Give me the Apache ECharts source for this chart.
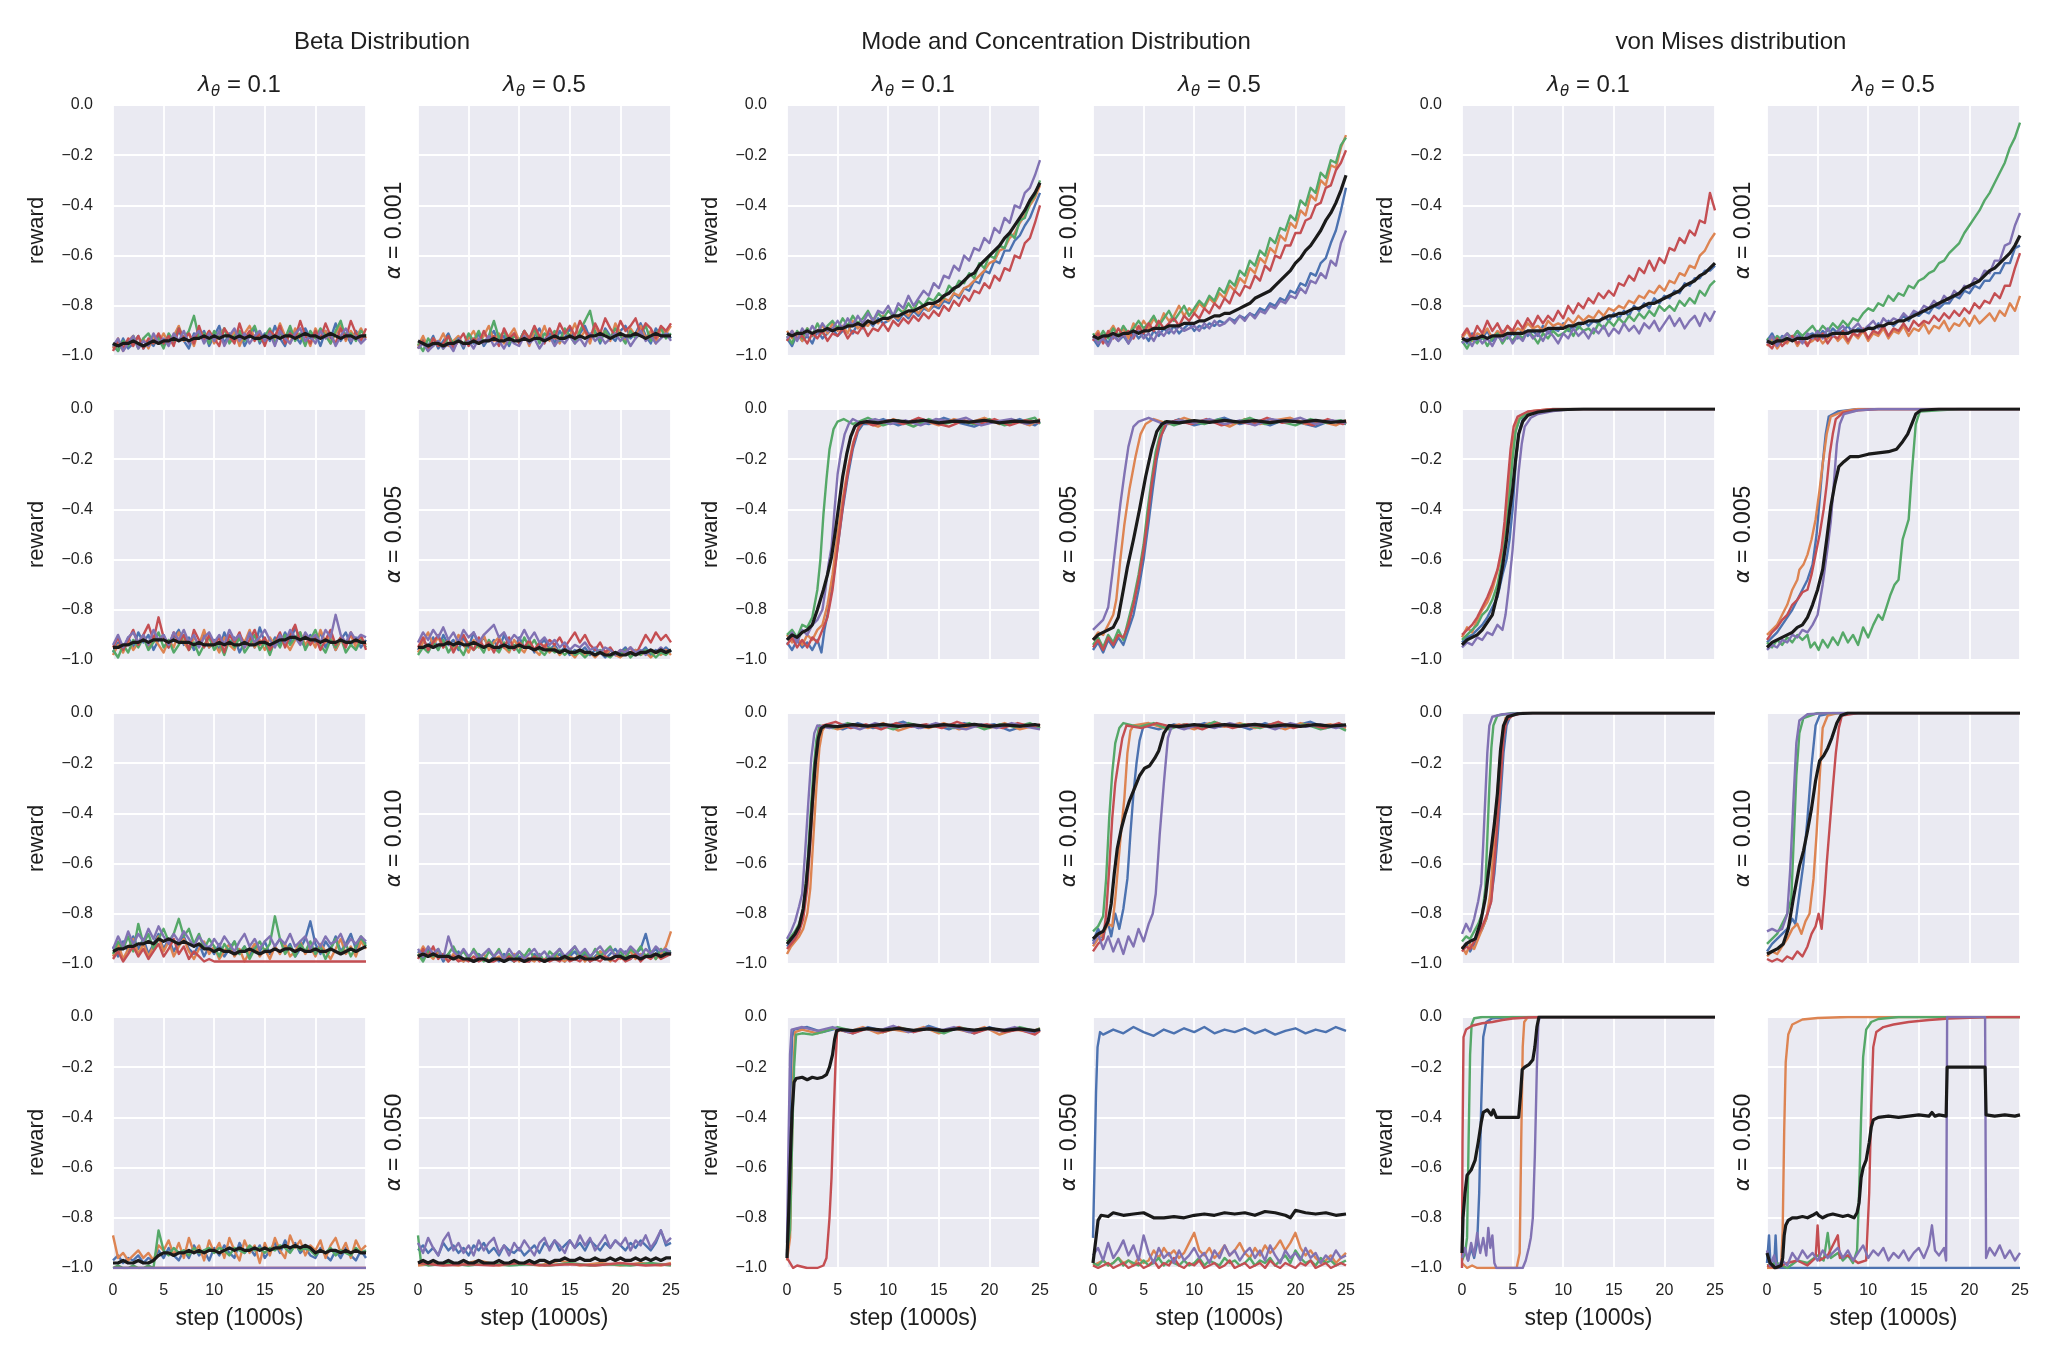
<!DOCTYPE html>
<html><head><meta charset="utf-8">
<script src="https://cdn.jsdelivr.net/npm/echarts/dist/echarts.min.js"></script>
<style>html,body{margin:0;padding:0;background:#fff}#c{width:2062px;height:1364px}</style>
</head><body><div id="c"></div>
<script>
// ---------- shared axes / labels ----------
const STEPS = [0,0.5,1,1.5,2,2.5,3,3.5,4,4.5,5,5.5,6,6.5,7,7.5,8,8.5,9,9.5,10,10.5,11,11.5,12,12.5,13,13.5,14,14.5,15,15.5,16,16.5,17,17.5,18,18.5,19,19.5,20,20.5,21,21.5,22,22.5,23,23.5,24,24.5,25];
const GROUP_TITLES = ['Beta Distribution','Mode and Concentration Distribution','von Mises distribution'];
const LAMBDAS = ['0.1','0.5'];
const ALPHAS = ['0.001','0.005','0.010','0.050'];
const Y_LABEL = 'reward';
const X_LABEL = 'step (1000s)';
const COLORS = ['#4C72B0','#DD8452','#55A868','#C44E52','#8172B3','#1a1a1a'];

// ---------- Beta, lambda 0.1 ----------
const b1_1_bl=[-.96,-.98,-.93,-.97,-.95,-.92,-.97,-.94,-.96,-.92,
-.96,-.92,-.95,-.90,-.94,-.97,-.91,-.93,-.90,-.96,
-.92,-.88,-.95,-.91,-.94,-.90,-.96,-.92,-.89,-.95,
-.91,-.94,-.88,-.93,-.96,-.90,-.92,-.95,-.89,-.93,
-.91,-.96,-.90,-.93,-.87,-.94,-.91,-.95,-.90,-.93,-.92];
const b1_1_or=[-.97,-.93,-.98,-.94,-.92,-.96,-.93,-.97,-.92,-.95,
-.91,-.95,-.92,-.88,-.94,-.91,-.96,-.89,-.93,-.90,
-.95,-.92,-.89,-.94,-.90,-.96,-.91,-.88,-.93,-.91,
-.95,-.90,-.93,-.87,-.92,-.95,-.89,-.93,-.91,-.96,
-.89,-.93,-.90,-.95,-.91,-.88,-.94,-.90,-.93,-.89,-.93];
const b1_1_gr=[-.95,-.98,-.94,-.96,-.92,-.97,-.93,-.91,-.95,-.93,
-.97,-.91,-.94,-.89,-.93,-.90,-.84,-.93,-.91,-.95,
-.90,-.93,-.89,-.95,-.92,-.90,-.94,-.91,-.88,-.94,
-.92,-.89,-.95,-.91,-.93,-.88,-.94,-.91,-.96,-.90,
-.93,-.89,-.92,-.95,-.90,-.86,-.93,-.91,-.94,-.90,-.92];
const b1_1_rd=[-.98,-.94,-.97,-.93,-.96,-.92,-.97,-.93,-.95,-.91,
-.95,-.92,-.96,-.89,-.93,-.91,-.95,-.88,-.94,-.90,
-.93,-.96,-.89,-.92,-.95,-.87,-.93,-.90,-.94,-.91,
-.96,-.90,-.92,-.88,-.95,-.91,-.93,-.86,-.92,-.95,
-.90,-.93,-.87,-.92,-.95,-.89,-.93,-.86,-.91,-.94,-.89];
const b1_1_pu=[-.96,-.93,-.98,-.95,-.92,-.97,-.94,-.96,-.91,-.95,
-.93,-.96,-.91,-.94,-.90,-.95,-.92,-.90,-.95,-.91,
-.94,-.90,-.96,-.92,-.89,-.94,-.91,-.95,-.92,-.90,
-.94,-.91,-.96,-.90,-.93,-.95,-.91,-.89,-.94,-.92,
-.95,-.90,-.93,-.91,-.96,-.92,-.89,-.94,-.92,-.95,-.93];
const b1_1_bk=[-.95,-.96,-.95,-.95,-.94,-.95,-.96,-.95,-.94,-.95,
-.94,-.94,-.93,-.94,-.93,-.94,-.93,-.93,-.92,-.93,
-.92,-.93,-.92,-.92,-.93,-.92,-.93,-.92,-.93,-.93,
-.92,-.93,-.92,-.93,-.92,-.92,-.93,-.92,-.91,-.92,
-.92,-.93,-.92,-.91,-.92,-.93,-.92,-.92,-.93,-.92,-.92];

const b1_5_bl=[-.97,-.93,-.96,-.91,-.95,-.89,-.93,-.90,-.96,-.92,
-.90,-.95,-.91,-.88,-.94,-.91,-.96,-.93,-.90,-.95,
-.92,-.96,-.89,-.94,-.91,-.97,-.93,-.90,-.95,-.87,
-.93,-.96,-.91,-.94,-.89,-.93,-.87,-.92,-.95,-.90,
-.93,-.89,-.95,-.91,-.96,-.92,-.89,-.94,-.91,-.95,-.92];
const b1_5_or=[-.98,-.94,-.97,-.92,-.96,-.93,-.90,-.95,-.91,-.94,
-.97,-.92,-.95,-.89,-.93,-.96,-.91,-.94,-.88,-.95,
-.93,-.97,-.91,-.94,-.96,-.90,-.93,-.88,-.95,-.92,
-.96,-.91,-.94,-.90,-.93,-.96,-.92,-.89,-.94,-.91,
-.95,-.88,-.93,-.90,-.96,-.92,-.94,-.90,-.95,-.91,-.94];
const b1_5_gr=[-.96,-.99,-.94,-.97,-.92,-.95,-.91,-.96,-.93,-.89,
-.95,-.92,-.97,-.94,-.90,-.96,-.93,-.98,-.94,-.91,
-.96,-.93,-.98,-.92,-.95,-.91,-.97,-.94,-.90,-.96,
-.93,-.98,-.92,-.95,-.90,-.94,-.91,-.89,-.96,-.92,
-.88,-.94,-.97,-.92,-.95,-.91,-.97,-.94,-.96,-.92,-.95];
const b1_5_rd=[-.95,-.91,-.96,-.92,-.88,-.94,-.90,-.86,-.92,-.83,
-.91,-.95,-.89,-.93,-.90,-.96,-.88,-.92,-.95,-.90,
-.94,-.91,-.97,-.90,-.93,-.89,-.95,-.92,-.88,-.94,
-.91,-.96,-.93,-.89,-.95,-.90,-.86,-.93,-.90,-.94,
-.91,-.96,-.92,-.88,-.94,-.91,-.95,-.89,-.93,-.90,-.96];
const b1_5_pu=[-.94,-.90,-.95,-.91,-.89,-.93,-.90,-.94,-.88,-.92,
-.90,-.94,-.89,-.92,-.88,-.93,-.90,-.95,-.91,-.89,
-.93,-.90,-.94,-.88,-.92,-.90,-.95,-.89,-.93,-.91,
-.88,-.92,-.95,-.90,-.93,-.88,-.91,-.94,-.89,-.92,
-.90,-.93,-.88,-.91,-.82,-.90,-.93,-.89,-.92,-.90,-.91];
const b1_5_bk=[-.95,-.95,-.94,-.94,-.93,-.93,-.92,-.93,-.92,-.92,
-.92,-.93,-.92,-.93,-.93,-.93,-.94,-.93,-.94,-.94,
-.94,-.93,-.94,-.93,-.94,-.94,-.93,-.94,-.94,-.93,
-.93,-.94,-.93,-.92,-.92,-.91,-.91,-.92,-.91,-.92,
-.92,-.93,-.92,-.93,-.93,-.92,-.93,-.93,-.92,-.93,-.93];

const b1_10_bl=[-.93,-.97,-.91,-.95,-.89,-.94,-.90,-.96,-.92,-.88,
-.94,-.90,-.95,-.91,-.89,-.94,-.96,-.92,-.97,-.93,
-.96,-.92,-.97,-.94,-.91,-.96,-.93,-.97,-.92,-.95,
-.91,-.96,-.93,-.90,-.95,-.92,-.97,-.94,-.90,-.83,
-.92,-.96,-.91,-.94,-.89,-.95,-.92,-.88,-.94,-.90,-.92];
const b1_10_or=[-.97,-.92,-.98,-.94,-.90,-.96,-.92,-.97,-.93,-.89,
-.95,-.91,-.97,-.93,-.90,-.95,-.98,-.94,-.91,-.96,
-.93,-.98,-.95,-.92,-.97,-.94,-.99,-.95,-.92,-.97,
-.94,-.98,-.93,-.96,-.92,-.97,-.95,-.91,-.96,-.93,
-.97,-.92,-.95,-.98,-.94,-.90,-.96,-.93,-.97,-.91,-.94];
const b1_10_gr=[-.96,-.91,-.94,-.89,-.95,-.84,-.92,-.88,-.94,-.90,
-.86,-.91,-.88,-.82,-.89,-.86,-.92,-.88,-.94,-.90,
-.93,-.97,-.92,-.95,-.91,-.96,-.93,-.98,-.94,-.91,
-.95,-.92,-.81,-.90,-.96,-.93,-.97,-.92,-.95,-.91,
-.96,-.93,-.98,-.94,-.90,-.96,-.92,-.97,-.93,-.89,-.93];
const b1_10_rd=[-.98,-.95,-.99,-.96,-.93,-.97,-.94,-.98,-.95,-.92,
-.97,-.94,-.90,-.96,-.93,-.98,-.95,-.97,-.99,-.98,
-.99,-.99,-.99,-.99,-.99,-.99,-.99,-.99,-.99,-.99,
-.99,-.99,-.99,-.99,-.99,-.99,-.99,-.99,-.99,-.99,
-.99,-.99,-.99,-.99,-.99,-.99,-.99,-.99,-.99,-.99,-.99];
const b1_10_pu=[-.94,-.89,-.93,-.87,-.92,-.88,-.91,-.86,-.90,-.85,
-.89,-.92,-.88,-.91,-.87,-.90,-.93,-.89,-.92,-.94,
-.90,-.93,-.89,-.92,-.95,-.91,-.88,-.93,-.90,-.94,
-.91,-.89,-.93,-.90,-.92,-.88,-.93,-.91,-.89,-.94,
-.90,-.93,-.89,-.92,-.91,-.88,-.93,-.90,-.92,-.89,-.91];
const b1_10_bk=[-.95,-.94,-.94,-.93,-.93,-.92,-.92,-.91,-.92,-.90,
-.91,-.90,-.91,-.92,-.91,-.92,-.93,-.92,-.94,-.94,
-.95,-.94,-.95,-.95,-.96,-.95,-.95,-.94,-.95,-.96,
-.95,-.95,-.94,-.95,-.94,-.94,-.95,-.94,-.95,-.95,
-.94,-.95,-.95,-.94,-.95,-.96,-.95,-.94,-.95,-.94,-.93];

const b1_50_bl=[-.97,-.95,-.98,-.96,-.97,-.95,-.98,-.96,-.97,-.93,
-.96,-.92,-.95,-.97,-.93,-.96,-.91,-.95,-.93,-.97,
-.92,-.95,-.91,-.94,-.96,-.90,-.94,-.92,-.95,-.91,
-.96,-.93,-.90,-.94,-.89,-.93,-.90,-.94,-.92,-.95,
-.96,-.92,-.95,-.97,-.93,-.96,-.92,-.95,-.97,-.93,-.96];
const b1_50_or=[-.87,-.96,-.94,-.97,-.95,-.93,-.96,-.94,-.97,-.91,
-.93,-.89,-.95,-.90,-.96,-.88,-.94,-.91,-.97,-.89,
-.94,-.90,-.96,-.88,-.93,-.97,-.89,-.94,-.91,-.98,
-.90,-.95,-.88,-.93,-.96,-.87,-.92,-.89,-.95,-.91,
-.93,-.89,-.96,-.91,-.88,-.94,-.90,-.96,-.89,-.93,-.91];
const b1_50_gr=[-1,-.99,-1,-1,-.99,-1,-1,-.99,-1,-.85,
-.93,-.95,-.92,-.94,-.93,-.95,-.92,-.94,-.93,-.92,
-.94,-.92,-.93,-.95,-.92,-.93,-.94,-.91,-.93,-.92,
-.94,-.92,-.93,-.91,-.92,-.94,-.91,-.93,-.92,-.93,
-.95,-.93,-.94,-.92,-.95,-.93,-.94,-.95,-.92,-.94,-.93];
const b1_50_rd=[[0,-1],[25,-1]];
const b1_50_pu=[[0,-1],[25,-1]];
const b1_50_bk=[-.98,-.98,-.97,-.98,-.98,-.97,-.98,-.98,-.97,-.95,
-.94,-.94,-.95,-.94,-.94,-.93,-.94,-.93,-.94,-.93,
-.93,-.94,-.93,-.92,-.93,-.92,-.93,-.93,-.92,-.93,
-.92,-.93,-.92,-.92,-.91,-.92,-.91,-.92,-.91,-.92,
-.94,-.93,-.94,-.93,-.93,-.94,-.93,-.94,-.93,-.94,-.94];

// ---------- Beta, lambda 0.5 ----------
const b5_1_bl=[-.97,-.93,-.96,-.92,-.97,-.94,-.91,-.96,-.93,-.97,
-.92,-.95,-.91,-.96,-.93,-.90,-.95,-.92,-.96,-.91,
-.94,-.90,-.95,-.92,-.89,-.94,-.91,-.95,-.90,-.93,
-.89,-.94,-.91,-.88,-.93,-.90,-.95,-.89,-.92,-.94,
-.90,-.88,-.93,-.91,-.87,-.92,-.95,-.89,-.92,-.90,-.93];
const b5_1_or=[-.96,-.92,-.97,-.93,-.95,-.91,-.96,-.94,-.92,-.96,
-.93,-.90,-.95,-.92,-.88,-.94,-.91,-.95,-.92,-.89,
-.94,-.91,-.96,-.90,-.93,-.88,-.94,-.91,-.95,-.90,
-.92,-.87,-.93,-.90,-.95,-.88,-.92,-.90,-.94,-.87,
-.91,-.94,-.89,-.92,-.88,-.93,-.90,-.95,-.89,-.91,-.88];
const b5_1_gr=[-.95,-.98,-.93,-.96,-.94,-.97,-.92,-.95,-.93,-.96,
-.91,-.94,-.90,-.95,-.92,-.86,-.93,-.90,-.95,-.92,
-.94,-.90,-.93,-.89,-.95,-.91,-.93,-.90,-.94,-.89,
-.92,-.95,-.90,-.86,-.82,-.91,-.94,-.90,-.93,-.89,
-.92,-.95,-.90,-.93,-.91,-.88,-.94,-.91,-.89,-.93,-.91];
const b5_1_rd=[-.97,-.94,-.98,-.93,-.96,-.95,-.92,-.97,-.94,-.91,
-.96,-.93,-.95,-.90,-.94,-.92,-.96,-.89,-.93,-.91,
-.95,-.90,-.93,-.88,-.92,-.95,-.89,-.93,-.87,-.91,
-.88,-.92,-.86,-.90,-.93,-.87,-.91,-.85,-.89,-.92,
-.86,-.90,-.88,-.85,-.91,-.87,-.89,-.93,-.88,-.90,-.87];
const b5_1_pu=[-.97,-.95,-.98,-.96,-.94,-.97,-.95,-.98,-.93,-.96,
-.94,-.97,-.93,-.95,-.92,-.96,-.94,-.97,-.93,-.95,
-.96,-.92,-.95,-.93,-.97,-.94,-.92,-.96,-.93,-.95,
-.92,-.95,-.93,-.96,-.91,-.94,-.92,-.95,-.93,-.91,
-.94,-.92,-.96,-.93,-.90,-.94,-.92,-.95,-.93,-.91,-.94];
const b5_1_bk=[-.94,-.95,-.96,-.95,-.95,-.96,-.95,-.95,-.94,-.95,
-.95,-.94,-.95,-.94,-.94,-.93,-.94,-.94,-.93,-.94,
-.94,-.93,-.94,-.93,-.93,-.94,-.93,-.92,-.93,-.93,
-.92,-.93,-.92,-.93,-.92,-.92,-.91,-.92,-.93,-.92,
-.91,-.92,-.92,-.91,-.92,-.93,-.92,-.91,-.92,-.92,-.92];

const b5_5_bl=[-.96,-.92,-.95,-.91,-.96,-.90,-.94,-.92,-.96,-.91,
-.95,-.89,-.94,-.91,-.95,-.92,-.96,-.90,-.94,-.96,
-.91,-.95,-.93,-.97,-.94,-.92,-.96,-.94,-.97,-.95,
-.98,-.96,-.97,-.95,-.98,-.96,-.97,-.99,-.96,-.98,
-.97,-.95,-.98,-.96,-.97,-.95,-.98,-.96,-.97,-.95,-.97];
const b5_5_or=[-.97,-.93,-.89,-.94,-.91,-.95,-.92,-.96,-.90,-.94,
-.97,-.92,-.95,-.90,-.96,-.93,-.91,-.95,-.97,-.92,
-.95,-.97,-.93,-.96,-.98,-.94,-.97,-.95,-.98,-.96,
-.97,-.99,-.96,-.98,-.97,-.99,-.97,-.98,-.96,-.98,
-.99,-.97,-.98,-.96,-.98,-.97,-.99,-.97,-.98,-.96,-.98];
const b5_5_gr=[-.98,-.95,-.97,-.93,-.96,-.92,-.97,-.94,-.95,-.98,
-.93,-.96,-.94,-.97,-.92,-.95,-.97,-.93,-.96,-.94,
-.97,-.91,-.95,-.92,-.96,-.98,-.95,-.97,-.96,-.98,
-.96,-.98,-.97,-.99,-.97,-.98,-.96,-.98,-.99,-.97,
-.98,-.96,-.99,-.97,-.98,-.96,-.97,-.99,-.97,-.98,-.96];
const b5_5_rd=[-.95,-.91,-.96,-.93,-.90,-.95,-.92,-.97,-.93,-.90,
-.94,-.96,-.91,-.95,-.93,-.97,-.92,-.95,-.91,-.96,
-.93,-.95,-.92,-.96,-.93,-.95,-.92,-.94,-.91,-.95,
-.92,-.89,-.93,-.90,-.94,-.96,-.93,-.97,-.95,-.98,
-.96,-.97,-.95,-.98,-.94,-.90,-.93,-.89,-.92,-.90,-.93];
const b5_5_pu=[-.93,-.89,-.92,-.88,-.91,-.87,-.92,-.89,-.93,-.88,
-.91,-.89,-.93,-.90,-.88,-.86,-.91,-.89,-.93,-.90,
-.92,-.88,-.92,-.89,-.93,-.91,-.94,-.92,-.95,-.93,
-.96,-.94,-.95,-.93,-.96,-.95,-.97,-.95,-.96,-.98,
-.96,-.97,-.95,-.97,-.96,-.98,-.96,-.97,-.95,-.97,-.96];
const b5_5_bk=[-.95,-.95,-.94,-.95,-.94,-.94,-.93,-.94,-.93,-.94,
-.94,-.93,-.94,-.95,-.94,-.95,-.95,-.94,-.95,-.95,
-.94,-.95,-.95,-.96,-.95,-.96,-.96,-.96,-.97,-.96,
-.97,-.97,-.96,-.97,-.97,-.98,-.97,-.98,-.98,-.97,
-.98,-.98,-.97,-.98,-.97,-.97,-.96,-.97,-.96,-.97,-.96];

const b5_10_bl=[-.95,-.98,-.94,-.97,-.95,-.99,-.96,-.98,-.95,-.99,
-.97,-.99,-.96,-.98,-.99,-.97,-.99,-.96,-.98,-.99,
-.97,-.98,-.99,-.96,-.98,-.99,-.97,-.98,-.96,-.99,
-.97,-.95,-.98,-.96,-.99,-.97,-.95,-.98,-.96,-.94,
-.97,-.95,-.98,-.96,-.94,-.88,-.96,-.94,-.97,-.95,-.95];
const b5_10_or=[-.97,-.93,-.96,-.98,-.95,-.97,-.99,-.96,-.98,-.99,
-.97,-.99,-.98,-.96,-.99,-.98,-.97,-.99,-.98,-.96,
-.99,-.97,-.98,-.99,-.97,-.99,-.98,-.96,-.98,-.99,
-.97,-.98,-.96,-.99,-.97,-.98,-.95,-.97,-.99,-.96,
-.98,-.97,-.95,-.98,-.96,-.97,-.95,-.98,-.96,-.93,-.87];
const b5_10_gr=[-.96,-.99,-.95,-.97,-.94,-.98,-.96,-.93,-.97,-.95,
-.98,-.94,-.97,-.99,-.95,-.97,-.94,-.98,-.96,-.99,
-.95,-.97,-.94,-.98,-.96,-.99,-.95,-.97,-.94,-.98,
-.96,-.93,-.97,-.95,-.98,-.94,-.97,-.95,-.93,-.97,
-.95,-.98,-.94,-.96,-.93,-.97,-.95,-.98,-.94,-.96,-.95];
const b5_10_rd=[-.98,-.94,-.97,-.93,-.98,-.96,-.99,-.97,-.99,-.98,
-.99,-.97,-.99,-.98,-.99,-.99,-.98,-.99,-.97,-.99,
-.98,-.99,-.99,-.97,-.99,-.98,-.99,-.98,-.99,-.97,
-.99,-.98,-.99,-.97,-.99,-.98,-.99,-.97,-.98,-.99,
-.97,-.99,-.98,-.96,-.99,-.97,-.98,-.96,-.98,-.97,-.96];
const b5_10_pu=[-.94,-.97,-.93,-.96,-.94,-.98,-.89,-.95,-.97,-.94,
-.97,-.95,-.98,-.96,-.94,-.97,-.95,-.98,-.94,-.97,
-.95,-.98,-.96,-.94,-.97,-.95,-.98,-.96,-.94,-.97,
-.95,-.93,-.96,-.94,-.97,-.95,-.93,-.96,-.94,-.97,
-.94,-.96,-.93,-.95,-.97,-.94,-.96,-.93,-.95,-.94,-.96];
const b5_10_bk=[-.97,-.96,-.97,-.96,-.97,-.97,-.97,-.98,-.97,-.98,
-.98,-.99,-.98,-.98,-.99,-.98,-.98,-.99,-.98,-.98,
-.98,-.99,-.98,-.98,-.98,-.99,-.98,-.98,-.98,-.97,
-.98,-.98,-.97,-.98,-.98,-.98,-.97,-.98,-.98,-.97,
-.97,-.98,-.97,-.97,-.98,-.97,-.97,-.96,-.97,-.96,-.96];

const b5_50_bl=[-.93,-.91,-.94,-.92,-.95,-.90,-.93,-.91,-.94,-.92,
-.95,-.91,-.93,-.90,-.94,-.92,-.95,-.91,-.93,-.94,
-.92,-.95,-.93,-.91,-.94,-.90,-.92,-.89,-.93,-.91,
-.89,-.92,-.90,-.93,-.89,-.91,-.93,-.90,-.92,-.89,
-.91,-.93,-.90,-.92,-.89,-.91,-.93,-.90,-.85,-.91,-.90];
const b5_50_or=[[0,-.99],[2,-.98],[4,-.99],[6,-.97],[8,-.99],[10,-.98],[12,-.99],[14,-.97],[16,-.99],[18,-.98],[20,-.99],[22,-.98],[24,-.99],[25,-.98]];
const b5_50_gr=[[0,-.87],[0.3,-.98],[1,-.99],[3,-.98],[5,-.99],[7,-.98],[9,-.99],[11,-.985],[13,-.99],[15,-.98],[17,-.99],[19,-.985],[21,-.99],[23,-.98],[25,-.99]];
const b5_50_rd=[[0,-.98],[2.5,-.99],[5,-.985],[7.5,-.99],[10,-.98],[12.5,-.99],[15,-.985],[17.5,-.99],[20,-.98],[22.5,-.99],[25,-.985]];
const b5_50_pu=[-.90,-.94,-.88,-.92,-.95,-.89,-.86,-.93,-.90,-.94,
-.91,-.95,-.89,-.93,-.90,-.88,-.94,-.91,-.95,-.90,
-.93,-.89,-.92,-.95,-.90,-.88,-.93,-.89,-.91,-.94,
-.89,-.92,-.87,-.91,-.88,-.93,-.90,-.87,-.92,-.89,
-.91,-.88,-.93,-.89,-.91,-.87,-.92,-.89,-.85,-.90,-.88];
const b5_50_bk=[-.98,-.97,-.98,-.97,-.98,-.98,-.97,-.98,-.98,-.97,
-.98,-.98,-.97,-.98,-.98,-.98,-.97,-.98,-.98,-.97,
-.98,-.98,-.97,-.98,-.97,-.97,-.98,-.97,-.97,-.96,
-.97,-.97,-.96,-.97,-.97,-.96,-.97,-.97,-.96,-.97,
-.96,-.97,-.97,-.96,-.97,-.96,-.97,-.96,-.97,-.96,-.96];

// ---------- Mode & Concentration, lambda 0.1 ----------
const m1_1_bl=[-.93,-.96,-.91,-.94,-.92,-.95,-.90,-.93,-.91,-.89,
-.92,-.90,-.88,-.91,-.87,-.89,-.86,-.88,-.85,-.87,
-.86,-.84,-.86,-.83,-.85,-.82,-.84,-.81,-.82,-.80,
-.81,-.78,-.79,-.75,-.77,-.73,-.74,-.70,-.71,-.66,
-.67,-.62,-.63,-.58,-.58,-.54,-.52,-.48,-.45,-.40,-.35];
const m1_1_or=[-.90,-.93,-.91,-.94,-.89,-.92,-.90,-.88,-.91,-.87,
-.90,-.88,-.91,-.86,-.89,-.87,-.88,-.85,-.87,-.84,
-.86,-.84,-.85,-.82,-.84,-.81,-.83,-.80,-.82,-.79,
-.80,-.77,-.78,-.75,-.76,-.73,-.72,-.70,-.68,-.66,
-.63,-.62,-.58,-.57,-.53,-.51,-.47,-.44,-.40,-.37,-.32];
const m1_1_gr=[-.92,-.95,-.90,-.93,-.89,-.92,-.87,-.91,-.88,-.86,
-.89,-.85,-.88,-.84,-.87,-.85,-.82,-.86,-.83,-.85,
-.82,-.84,-.81,-.83,-.79,-.82,-.78,-.80,-.77,-.78,
-.75,-.77,-.72,-.74,-.70,-.71,-.67,-.69,-.63,-.65,
-.60,-.61,-.56,-.57,-.51,-.53,-.46,-.45,-.39,-.36,-.30];
const m1_1_rd=[-.94,-.90,-.93,-.92,-.95,-.91,-.93,-.90,-.94,-.91,
-.92,-.89,-.93,-.90,-.91,-.88,-.92,-.89,-.90,-.87,
-.90,-.86,-.88,-.85,-.87,-.84,-.86,-.83,-.85,-.82,
-.84,-.80,-.82,-.78,-.80,-.76,-.78,-.74,-.75,-.71,
-.73,-.68,-.70,-.65,-.66,-.60,-.61,-.55,-.53,-.47,-.40];
const m1_1_pu=[-.93,-.90,-.94,-.89,-.92,-.88,-.91,-.87,-.90,-.89,
-.86,-.89,-.85,-.88,-.84,-.87,-.83,-.86,-.82,-.83,
-.80,-.84,-.79,-.81,-.76,-.80,-.77,-.74,-.76,-.71,
-.73,-.68,-.69,-.64,-.66,-.60,-.62,-.57,-.58,-.53,
-.55,-.49,-.51,-.45,-.47,-.40,-.41,-.35,-.33,-.28,-.22];
const m1_1_bk=[-.91,-.92,-.91,-.91,-.90,-.91,-.90,-.90,-.89,-.90,
-.89,-.89,-.88,-.88,-.87,-.88,-.86,-.87,-.86,-.85,
-.85,-.84,-.84,-.83,-.82,-.82,-.81,-.80,-.79,-.79,
-.78,-.76,-.75,-.73,-.72,-.70,-.68,-.67,-.64,-.62,
-.60,-.58,-.56,-.53,-.51,-.48,-.45,-.42,-.38,-.35,-.31];

const m1_5_bl=[[0,-.93],[0.5,-.96],[1,-.92],[1.5,-.95],[2,-.93],[2.5,-.96],[3,-.92],[3.4,-.97],[3.7,-.88],[4,-.82],[4.5,-.70],[5,-.55],[5.5,-.40],[6,-.27],[6.5,-.16],[7,-.09],[7.5,-.06],[8,-.06],[9.5,-.04],[11,-.065],[12.5,-.045],[14,-.06],[15.5,-.035],[17,-.055],[18.5,-.07],[20,-.045],[21.5,-.06],[23,-.04],[24.5,-.065],[25,-.05]];
const m1_5_or=[[0,-.90],[0.5,-.93],[1,-.91],[1.5,-.94],[2,-.90],[2.5,-.92],[3,-.88],[3.5,-.86],[4,-.78],[4.5,-.66],[5,-.50],[5.5,-.36],[6,-.24],[6.5,-.14],[7,-.08],[7.5,-.05],[9,-.07],[10.5,-.04],[12,-.06],[13.5,-.045],[15,-.065],[16.5,-.04],[18,-.055],[19.5,-.035],[21,-.06],[22.5,-.045],[24,-.065],[25,-.04]];
const m1_5_gr=[[0,-.90],[0.5,-.88],[1,-.91],[1.5,-.86],[2,-.87],[2.5,-.83],[3,-.72],[3.3,-.60],[3.6,-.42],[3.9,-.28],[4.2,-.16],[4.6,-.08],[5,-.05],[5.6,-.04],[6.5,-.06],[8,-.035],[9.5,-.065],[11,-.045],[12.5,-.07],[14,-.04],[15.5,-.06],[17,-.045],[18.5,-.06],[20,-.04],[21.5,-.065],[23,-.05],[24.5,-.035],[25,-.06]];
const m1_5_rd=[[0,-.94],[0.5,-.91],[1,-.95],[1.5,-.92],[2,-.95],[2.5,-.91],[3,-.93],[3.5,-.88],[4,-.83],[4.5,-.72],[5.1,-.52],[5.6,-.36],[6.1,-.23],[6.6,-.13],[7.1,-.07],[7.6,-.05],[8.5,-.065],[10,-.045],[11.5,-.06],[13,-.035],[14.5,-.055],[16,-.07],[17.5,-.045],[19,-.06],[20.5,-.04],[22,-.065],[23.5,-.045],[25,-.055]];
const m1_5_pu=[[0,-.92],[0.5,-.89],[1,-.93],[1.5,-.88],[2,-.90],[2.5,-.86],[3,-.84],[3.5,-.80],[3.8,-.72],[4.1,-.62],[4.4,-.55],[4.7,-.40],[5,-.26],[5.3,-.18],[5.7,-.10],[6.1,-.06],[6.5,-.04],[7.2,-.055],[8.7,-.04],[10.2,-.06],[11.7,-.045],[13.2,-.065],[14.7,-.04],[16.2,-.05],[17.7,-.035],[19.2,-.065],[20.7,-.05],[22.2,-.04],[23.7,-.06],[25,-.045]];
const m1_5_bk=[[0,-.92],[0.5,-.90],[1,-.91],[1.5,-.89],[2,-.88],[2.5,-.86],[3,-.80],[3.3,-.76],[3.6,-.72],[4,-.66],[4.4,-.59],[4.8,-.48],[5.2,-.36],[5.5,-.27],[5.9,-.18],[6.3,-.11],[6.7,-.07],[7.2,-.055],[7.9,-.05],[9,-.055],[10.5,-.045],[12,-.052],[13.5,-.045],[15,-.055],[16.5,-.048],[18,-.052],[19.5,-.045],[21,-.055],[22.5,-.048],[24,-.052],[25,-.047]];

const m1_10_bl=[[0,-.93],[0.4,-.91],[0.8,-.89],[1.2,-.86],[1.6,-.80],[2,-.64],[2.3,-.46],[2.6,-.28],[2.9,-.13],[3.2,-.06],[4,-.045],[5.5,-.065],[7,-.04],[8.5,-.06],[10,-.05],[11.5,-.035],[13,-.06],[14.5,-.045],[16,-.065],[17.5,-.04],[19,-.055],[20.5,-.045],[22,-.07],[23.5,-.05],[25,-.06]];
const m1_10_or=[[0,-.96],[0.4,-.93],[0.8,-.91],[1.2,-.89],[1.6,-.86],[2,-.80],[2.3,-.70],[2.6,-.50],[2.9,-.30],[3.2,-.14],[3.5,-.07],[3.8,-.05],[5,-.065],[6.5,-.045],[8,-.06],[9.5,-.04],[11,-.07],[12.5,-.05],[14,-.06],[15.5,-.04],[17,-.065],[18.5,-.05],[20,-.06],[21.5,-.04],[23,-.065],[24.5,-.05],[25,-.06]];
const m1_10_gr=[[0,-.91],[0.4,-.89],[0.8,-.87],[1.2,-.84],[1.6,-.78],[2,-.62],[2.3,-.42],[2.6,-.24],[2.9,-.11],[3.2,-.05],[4.5,-.06],[6,-.04],[7.5,-.055],[9,-.045],[10.5,-.065],[12,-.04],[13.5,-.055],[15,-.045],[16.5,-.06],[18,-.04],[19.5,-.065],[21,-.045],[22.5,-.055],[24,-.04],[25,-.06]];
const m1_10_rd=[[0,-.94],[0.4,-.92],[0.8,-.90],[1.2,-.87],[1.6,-.82],[2,-.70],[2.3,-.52],[2.6,-.32],[2.9,-.16],[3.2,-.07],[3.5,-.05],[4.8,-.035],[6.3,-.06],[7.8,-.045],[9.3,-.065],[10.8,-.04],[12.3,-.055],[13.8,-.045],[15.3,-.06],[16.8,-.035],[18.3,-.055],[19.8,-.045],[21.3,-.06],[22.8,-.04],[24.3,-.055],[25,-.045]];
const m1_10_pu=[[0,-.90],[0.4,-.87],[0.8,-.83],[1.2,-.77],[1.5,-.72],[1.8,-.55],[2.1,-.36],[2.4,-.18],[2.7,-.08],[3,-.05],[4.2,-.06],[5.7,-.045],[7.2,-.065],[8.7,-.04],[10.2,-.055],[11.7,-.045],[13.2,-.06],[14.7,-.04],[16.2,-.055],[17.7,-.065],[19.2,-.045],[20.7,-.06],[22.2,-.04],[23.7,-.055],[25,-.065]];
const m1_10_bk=[[0,-.92],[0.4,-.90],[0.8,-.88],[1.2,-.85],[1.6,-.78],[1.9,-.68],[2.2,-.54],[2.5,-.36],[2.8,-.20],[3.1,-.10],[3.4,-.06],[3.8,-.05],[5,-.054],[6.5,-.046],[8,-.052],[9.5,-.045],[11,-.053],[12.5,-.047],[14,-.054],[15.5,-.046],[17,-.052],[18.5,-.045],[20,-.053],[21.5,-.047],[23,-.052],[24.5,-.046],[25,-.05]];

const m1_50_bl=[[0,-.95],[0.2,-.70],[0.35,-.30],[0.5,-.08],[0.7,-.05],[2,-.04],[3.5,-.06],[5,-.045],[6.5,-.065],[8,-.04],[9.5,-.055],[11,-.045],[12.5,-.06],[14,-.035],[15.5,-.055],[17,-.045],[18.5,-.065],[20,-.04],[21.5,-.06],[23,-.045],[24.5,-.065],[25,-.05]];
const m1_50_or=[[0,-.97],[0.3,-.88],[0.45,-.60],[0.6,-.25],[0.8,-.06],[1.5,-.05],[3,-.065],[4.5,-.045],[6,-.06],[7.5,-.04],[9,-.065],[10.5,-.05],[12,-.06],[13.5,-.04],[15,-.065],[16.5,-.045],[18,-.06],[19.5,-.04],[21,-.07],[22.5,-.05],[24,-.06],[25,-.045]];
const m1_50_gr=[[0,-.93],[0.3,-.85],[0.5,-.50],[0.7,-.20],[0.9,-.07],[1.5,-.065],[2.5,-.07],[3.5,-.06],[5,-.04],[6.5,-.055],[8,-.045],[9.5,-.06],[11,-.04],[12.5,-.055],[14,-.045],[15.5,-.065],[17,-.04],[18.5,-.055],[20,-.045],[21.5,-.06],[23,-.04],[24.5,-.055],[25,-.045]];
const m1_50_rd=[[0,-.96],[0.3,-.98],[0.6,-1],[1,-.99],[2,-1],[3,-1],[3.6,-.99],[3.9,-.96],[4.2,-.80],[4.4,-.64],[4.6,-.40],[4.8,-.18],[4.95,-.06],[5.2,-.05],[6.5,-.065],[8,-.045],[9.5,-.06],[11,-.04],[12.5,-.06],[14,-.045],[15.5,-.055],[17,-.04],[18.5,-.065],[20,-.045],[21.5,-.06],[23,-.05],[24.5,-.07],[25,-.055]];
const m1_50_pu=[[0,-.90],[0.15,-.50],[0.3,-.15],[0.45,-.05],[1.5,-.04],[3,-.055],[4.5,-.04],[6,-.06],[7.5,-.045],[9,-.055],[10.5,-.035],[12,-.06],[13.5,-.045],[15,-.055],[16.5,-.04],[18,-.06],[19.5,-.045],[21,-.055],[22.5,-.04],[24,-.06],[25,-.05]];
const m1_50_bk=[[0,-.96],[0.15,-.80],[0.3,-.60],[0.5,-.38],[0.7,-.26],[0.9,-.245],[1.5,-.24],[2,-.25],[2.5,-.24],[3,-.245],[3.5,-.24],[3.9,-.23],[4.2,-.20],[4.5,-.15],[4.7,-.09],[4.9,-.055],[5.3,-.05],[6.5,-.054],[8,-.046],[9.5,-.052],[11,-.045],[12.5,-.053],[14,-.047],[15.5,-.054],[17,-.046],[18.5,-.052],[20,-.045],[21.5,-.053],[23,-.047],[24.5,-.054],[25,-.05]];

// ---------- Mode & Concentration, lambda 0.5 ----------
const m5_1_bl=[-.93,-.96,-.92,-.95,-.91,-.94,-.92,-.95,-.90,-.93,
-.91,-.94,-.90,-.92,-.89,-.91,-.88,-.91,-.89,-.87,
-.90,-.88,-.89,-.87,-.88,-.86,-.87,-.85,-.86,-.84,
-.85,-.83,-.84,-.81,-.82,-.79,-.80,-.77,-.78,-.74,
-.75,-.71,-.72,-.67,-.68,-.63,-.61,-.55,-.50,-.42,-.33];
const m5_1_or=[-.93,-.90,-.94,-.91,-.88,-.92,-.89,-.93,-.87,-.90,
-.86,-.89,-.85,-.88,-.83,-.86,-.84,-.80,-.84,-.81,
-.83,-.79,-.81,-.77,-.79,-.75,-.77,-.72,-.74,-.69,
-.71,-.65,-.67,-.61,-.63,-.57,-.59,-.52,-.54,-.47,
-.49,-.42,-.44,-.36,-.38,-.30,-.32,-.24,-.25,-.17,-.12];
const m5_1_gr=[-.91,-.94,-.90,-.93,-.89,-.92,-.88,-.91,-.89,-.86,
-.89,-.87,-.84,-.88,-.85,-.82,-.86,-.83,-.80,-.84,
-.81,-.78,-.80,-.76,-.78,-.73,-.75,-.70,-.72,-.66,
-.68,-.62,-.64,-.58,-.60,-.53,-.55,-.49,-.50,-.44,
-.46,-.38,-.40,-.33,-.35,-.27,-.29,-.22,-.23,-.16,-.13];
const m5_1_rd=[-.94,-.91,-.95,-.90,-.93,-.89,-.92,-.90,-.93,-.88,
-.91,-.87,-.90,-.86,-.89,-.87,-.85,-.88,-.84,-.86,
-.83,-.85,-.81,-.83,-.79,-.81,-.77,-.79,-.74,-.76,
-.72,-.73,-.68,-.70,-.64,-.66,-.60,-.61,-.56,-.56,
-.51,-.51,-.46,-.45,-.40,-.39,-.33,-.32,-.26,-.23,-.18];
const m5_1_pu=[-.92,-.95,-.93,-.96,-.92,-.94,-.91,-.95,-.92,-.90,
-.93,-.91,-.94,-.90,-.92,-.89,-.91,-.88,-.90,-.89,
-.88,-.90,-.87,-.89,-.86,-.88,-.87,-.85,-.87,-.84,
-.86,-.83,-.85,-.82,-.83,-.80,-.81,-.78,-.79,-.76,
-.77,-.73,-.75,-.70,-.71,-.67,-.69,-.62,-.64,-.55,-.50];
const m5_1_bk=[-.92,-.93,-.92,-.92,-.91,-.92,-.91,-.91,-.90,-.91,
-.90,-.90,-.89,-.89,-.89,-.88,-.88,-.88,-.87,-.87,
-.87,-.86,-.86,-.85,-.84,-.84,-.83,-.83,-.82,-.81,
-.80,-.79,-.77,-.76,-.75,-.74,-.72,-.70,-.68,-.66,
-.63,-.61,-.58,-.56,-.53,-.50,-.46,-.43,-.39,-.34,-.28];

const m5_5_bl=[[0,-.96],[0.5,-.93],[1,-.97],[1.5,-.92],[2,-.95],[2.5,-.91],[3,-.94],[3.5,-.88],[4,-.82],[4.5,-.72],[5,-.60],[5.5,-.45],[5.9,-.32],[6.3,-.20],[6.8,-.10],[7.3,-.06],[8.5,-.04],[10,-.065],[11.5,-.05],[13,-.035],[14.5,-.06],[16,-.045],[17.5,-.065],[19,-.04],[20.5,-.055],[22,-.07],[23.5,-.045],[25,-.06]];
const m5_5_or=[[0,-.92],[0.5,-.89],[1,-.90],[1.5,-.86],[2,-.82],[2.3,-.76],[2.7,-.60],[3.1,-.46],[3.6,-.32],[4.2,-.19],[4.7,-.10],[5.2,-.06],[6,-.04],[7.5,-.06],[9,-.035],[10.5,-.055],[12,-.045],[13.5,-.07],[15,-.04],[16.5,-.06],[18,-.045],[19.5,-.035],[21,-.06],[22.5,-.05],[24,-.065],[25,-.045]];
const m5_5_gr=[[0,-.94],[0.5,-.91],[1,-.95],[1.5,-.90],[2,-.93],[2.5,-.88],[3,-.92],[3.5,-.84],[4,-.76],[4.5,-.66],[5,-.54],[5.4,-.40],[5.8,-.28],[6.2,-.17],[6.7,-.09],[7.1,-.05],[8,-.065],[9.5,-.045],[11,-.06],[12.5,-.04],[14,-.055],[15.5,-.035],[17,-.06],[18.5,-.05],[20,-.065],[21.5,-.04],[23,-.055],[24.5,-.045],[25,-.06]];
const m5_5_rd=[[0,-.95],[0.5,-.92],[1,-.96],[1.5,-.91],[2,-.94],[2.5,-.90],[3,-.91],[3.5,-.86],[4,-.78],[4.5,-.68],[5,-.56],[5.4,-.44],[5.8,-.30],[6.2,-.20],[6.6,-.12],[7.2,-.06],[8.2,-.045],[9.7,-.06],[11.2,-.04],[12.7,-.065],[14.2,-.05],[15.7,-.06],[17.2,-.035],[18.7,-.055],[20.2,-.045],[21.7,-.065],[23.2,-.04],[24.7,-.06],[25,-.05]];
const m5_5_pu=[[0,-.88],[0.5,-.86],[1,-.84],[1.5,-.79],[1.9,-.66],[2.3,-.52],[2.7,-.38],[3.1,-.26],[3.5,-.15],[4,-.07],[4.5,-.05],[5.5,-.035],[7,-.06],[8.5,-.045],[10,-.055],[11.5,-.04],[13,-.06],[14.5,-.045],[16,-.065],[17.5,-.04],[19,-.05],[20.5,-.035],[22,-.06],[23.5,-.045],[25,-.055]];
const m5_5_bk=[[0,-.92],[0.5,-.90],[1,-.89],[1.5,-.88],[2,-.87],[2.5,-.83],[3,-.72],[3.4,-.63],[4,-.52],[4.6,-.40],[5.2,-.27],[5.8,-.16],[6.3,-.09],[6.8,-.06],[7.3,-.05],[8.5,-.055],[10,-.046],[11.5,-.053],[13,-.045],[14.5,-.052],[16,-.046],[17.5,-.054],[19,-.046],[20.5,-.052],[22,-.045],[23.5,-.053],[25,-.048]];

const m5_10_bl=[[0,-.91],[0.5,-.86],[1,-.90],[1.4,-.82],[1.8,-.89],[2.2,-.80],[2.6,-.86],[3,-.78],[3.4,-.66],[3.7,-.48],[4,-.32],[4.3,-.20],[4.6,-.11],[5,-.05],[6.5,-.065],[8,-.045],[9.5,-.06],[11,-.04],[12.5,-.055],[14,-.045],[15.5,-.065],[17,-.04],[18.5,-.06],[20,-.05],[21.5,-.035],[23,-.06],[24.5,-.045],[25,-.055]];
const m5_10_or=[[0,-.93],[0.5,-.90],[1,-.88],[1.5,-.84],[1.9,-.85],[2.2,-.74],[2.5,-.60],[2.8,-.46],[3.1,-.34],[3.4,-.16],[3.7,-.07],[4,-.05],[5.5,-.04],[7,-.06],[8.5,-.045],[10,-.065],[11.5,-.04],[13,-.055],[14.5,-.04],[16,-.06],[17.5,-.045],[19,-.065],[20.5,-.04],[22,-.055],[23.5,-.045],[25,-.06]];
const m5_10_gr=[[0,-.87],[0.5,-.85],[1,-.81],[1.3,-.66],[1.6,-.42],[1.9,-.24],[2.2,-.12],[2.6,-.06],[3,-.04],[4.5,-.055],[6,-.04],[7.5,-.065],[9,-.045],[10.5,-.06],[12,-.035],[13.5,-.055],[15,-.045],[16.5,-.06],[18,-.04],[19.5,-.055],[21,-.045],[22.5,-.065],[24,-.05],[25,-.07]];
const m5_10_rd=[[0,-.95],[0.5,-.92],[1,-.90],[1.3,-.80],[1.6,-.62],[1.9,-.42],[2.2,-.28],[2.5,-.20],[2.9,-.10],[3.3,-.05],[4.8,-.06],[6.3,-.04],[7.8,-.055],[9.3,-.045],[10.8,-.065],[12.3,-.04],[13.8,-.06],[15.3,-.045],[16.8,-.055],[18.3,-.035],[19.8,-.06],[21.3,-.045],[22.8,-.06],[24.3,-.04],[25,-.055]];
const m5_10_pu=[[0,-.92],[0.5,-.88],[1,-.94],[1.5,-.89],[2,-.95],[2.5,-.90],[3,-.96],[3.5,-.89],[4,-.93],[4.5,-.86],[5,-.91],[5.5,-.84],[5.9,-.80],[6.2,-.72],[6.6,-.48],[7,-.28],[7.4,-.10],[7.8,-.05],[9,-.065],[10.5,-.045],[12,-.06],[13.5,-.04],[15,-.055],[16.5,-.045],[18,-.065],[19.5,-.04],[21,-.055],[22.5,-.045],[24,-.06],[25,-.05]];
const m5_10_bk=[[0,-.90],[0.5,-.88],[1,-.87],[1.5,-.83],[1.8,-.76],[2.1,-.64],[2.4,-.54],[2.8,-.46],[3.2,-.40],[3.6,-.35],[4.1,-.30],[4.6,-.25],[5.1,-.22],[5.6,-.21],[6.1,-.18],[6.5,-.15],[7,-.08],[7.5,-.05],[8.5,-.054],[10,-.046],[11.5,-.053],[13,-.046],[14.5,-.052],[16,-.045],[17.5,-.053],[19,-.047],[20.5,-.053],[22,-.046],[23.5,-.052],[25,-.047]];

const m5_50_bl=[[0,-.88],[0.15,-.60],[0.3,-.30],[0.45,-.12],[0.7,-.06],[1,-.07],[2,-.05],[3,-.065],[4,-.04],[5,-.06],[6,-.075],[7,-.05],[8,-.065],[9,-.045],[10,-.06],[11,-.04],[12,-.065],[13,-.05],[14,-.06],[15,-.045],[16,-.065],[17,-.05],[18,-.07],[19,-.055],[20,-.045],[21,-.065],[22,-.05],[23,-.06],[24,-.04],[25,-.055]];
const m5_50_or=[-.99,-.98,-.97,-.99,-.98,-.96,-.98,-.97,-.99,-.96,
-.98,-.97,-.93,-.96,-.92,-.95,-.93,-.96,-.94,-.90,
-.86,-.93,-.95,-.92,-.96,-.94,-.91,-.95,-.93,-.90,
-.94,-.96,-.92,-.95,-.91,-.94,-.92,-.89,-.93,-.90,
-.86,-.92,-.95,-.93,-.96,-.98,-.97,-.95,-.98,-.96,-.94];
const m5_50_gr=[-.98,-.99,-.97,-.99,-.98,-.96,-.99,-.97,-.98,-.99,
-.97,-.99,-.98,-.96,-.99,-.97,-.98,-.99,-.97,-.99,
-.98,-.96,-.99,-.97,-.98,-.99,-.96,-.98,-.97,-.99,
-.98,-.96,-.99,-.97,-.98,-.96,-.99,-.97,-.95,-.98,
-.93,-.96,-.98,-.97,-.99,-.96,-.98,-.97,-.99,-.98,-.97];
const m5_50_rd=[-.99,-1,-.99,-.98,-1,-.99,-.98,-1,-.99,-.98,
-1,-.99,-.97,-1,-.98,-.99,-.96,-.99,-1,-.98,
-.99,-.97,-1,-.99,-.98,-1,-.99,-.97,-1,-.99,
-.98,-1,-.99,-.98,-1,-.97,-.99,-1,-.98,-.99,
-1,-.98,-.99,-.97,-1,-.99,-.98,-1,-.99,-.98,-.99];
const m5_50_pu=[-.95,-.92,-.97,-.90,-.96,-.93,-.89,-.95,-.91,-.97,
-.87,-.94,-.98,-.92,-.96,-.94,-.98,-.93,-.97,-.95,
-.92,-.96,-.94,-.98,-.93,-.96,-.91,-.95,-.93,-.97,
-.94,-.92,-.96,-.93,-.97,-.91,-.95,-.98,-.93,-.96,
-.94,-.97,-.92,-.96,-.94,-.98,-.95,-.97,-.93,-.96,-.95];
const m5_50_bk=[[0,-.98],[0.3,-.88],[0.5,-.81],[0.8,-.79],[1.5,-.795],[2,-.78],[3,-.79],[4,-.785],[5,-.78],[5.5,-.79],[6,-.80],[7,-.80],[8,-.795],[9,-.80],[10,-.79],[11,-.785],[12,-.79],[13,-.78],[14,-.785],[15,-.78],[16,-.79],[17,-.775],[18,-.78],[19,-.79],[19.5,-.80],[20,-.77],[21,-.78],[22,-.785],[23,-.78],[24,-.79],[25,-.785]];

// ---------- von Mises, lambda 0.1 ----------
const v1_1_bl=[-.92,-.95,-.91,-.94,-.93,-.90,-.94,-.92,-.90,-.93,
-.91,-.93,-.89,-.92,-.90,-.92,-.88,-.91,-.89,-.90,
-.87,-.90,-.88,-.89,-.86,-.88,-.86,-.87,-.84,-.86,
-.83,-.85,-.82,-.84,-.80,-.82,-.79,-.81,-.77,-.79,
-.76,-.77,-.74,-.75,-.71,-.72,-.69,-.69,-.66,-.66,-.64];
const v1_1_or=[-.93,-.90,-.94,-.91,-.92,-.89,-.93,-.90,-.92,-.88,
-.91,-.89,-.90,-.87,-.89,-.88,-.90,-.86,-.88,-.87,
-.88,-.85,-.87,-.84,-.86,-.84,-.85,-.82,-.84,-.81,
-.82,-.80,-.81,-.78,-.79,-.76,-.77,-.74,-.75,-.72,
-.74,-.70,-.71,-.67,-.68,-.64,-.65,-.60,-.58,-.54,-.51];
const v1_1_gr=[-.94,-.97,-.93,-.95,-.92,-.96,-.93,-.91,-.95,-.92,
-.94,-.91,-.93,-.90,-.92,-.95,-.91,-.93,-.90,-.92,
-.91,-.89,-.92,-.88,-.90,-.89,-.91,-.87,-.89,-.86,
-.88,-.85,-.87,-.84,-.86,-.83,-.85,-.82,-.84,-.80,
-.82,-.80,-.82,-.78,-.80,-.77,-.79,-.74,-.76,-.72,-.70];
const v1_1_rd=[-.92,-.89,-.93,-.88,-.91,-.86,-.90,-.87,-.91,-.88,
-.90,-.86,-.89,-.85,-.88,-.84,-.87,-.84,-.86,-.82,
-.85,-.80,-.83,-.79,-.81,-.77,-.79,-.75,-.77,-.74,
-.76,-.71,-.72,-.68,-.70,-.65,-.67,-.62,-.66,-.61,
-.63,-.57,-.58,-.53,-.55,-.50,-.52,-.46,-.47,-.35,-.42];
const v1_1_pu=[-.95,-.93,-.96,-.92,-.95,-.93,-.96,-.92,-.94,-.91,
-.95,-.92,-.94,-.90,-.93,-.91,-.94,-.90,-.92,-.95,
-.91,-.93,-.89,-.92,-.90,-.93,-.89,-.91,-.88,-.92,
-.89,-.91,-.87,-.90,-.88,-.91,-.87,-.89,-.86,-.90,
-.87,-.84,-.88,-.85,-.89,-.86,-.84,-.88,-.83,-.86,-.82];
const v1_1_bk=[-.93,-.94,-.93,-.93,-.92,-.93,-.92,-.92,-.92,-.91,
-.91,-.91,-.91,-.90,-.90,-.90,-.90,-.89,-.89,-.89,
-.89,-.88,-.88,-.87,-.87,-.86,-.86,-.86,-.85,-.84,
-.84,-.83,-.83,-.82,-.81,-.81,-.80,-.79,-.79,-.78,
-.77,-.76,-.75,-.74,-.72,-.71,-.70,-.68,-.67,-.65,-.63];

const v1_5_bl=[[0,-.93],[0.5,-.91],[1,-.90],[1.5,-.88],[2,-.86],[2.5,-.83],[3,-.79],[3.5,-.75],[4,-.66],[4.4,-.60],[4.7,-.52],[5,-.40],[5.3,-.22],[5.6,-.10],[6,-.04],[7,-.015],[9,0],[25,0]];
const v1_5_or=[[0,-.91],[0.5,-.87],[1,-.89],[1.5,-.84],[2,-.80],[2.5,-.77],[3,-.72],[3.4,-.66],[3.8,-.60],[4.2,-.50],[4.5,-.36],[4.8,-.24],[5.1,-.12],[5.4,-.06],[5.8,-.025],[7,-.008],[9,0],[25,0]];
const v1_5_gr=[[0,-.92],[0.5,-.90],[1,-.88],[1.5,-.86],[2,-.82],[2.5,-.80],[3,-.76],[3.5,-.70],[4,-.60],[4.4,-.48],[4.7,-.34],[5,-.20],[5.3,-.09],[5.7,-.04],[6.5,-.015],[9,0],[25,0]];
const v1_5_rd=[[0,-.90],[0.5,-.88],[1,-.86],[1.5,-.83],[2,-.79],[2.5,-.75],[3,-.70],[3.5,-.64],[3.9,-.56],[4.2,-.45],[4.5,-.30],[4.8,-.16],[5.1,-.07],[5.5,-.03],[6.5,-.01],[9,0],[25,0]];
const v1_5_pu=[[0,-.95],[0.5,-.93],[1,-.94],[1.5,-.91],[2,-.92],[2.5,-.89],[3,-.90],[3.5,-.86],[4,-.88],[4.3,-.82],[4.6,-.72],[5,-.56],[5.3,-.40],[5.6,-.25],[5.9,-.14],[6.2,-.07],[6.8,-.035],[7.5,-.02],[9,-.008],[11,0],[25,0]];
const v1_5_bk=[[0,-.94],[0.5,-.92],[1,-.91],[1.5,-.90],[2,-.88],[2.5,-.85],[3,-.82],[3.3,-.77],[3.6,-.72],[4,-.63],[4.4,-.52],[4.7,-.41],[5,-.32],[5.3,-.20],[5.6,-.10],[6,-.05],[6.5,-.025],[7.5,-.012],[9,-.004],[12,0],[25,0]];

const v1_10_bl=[[0,-.94],[0.4,-.92],[0.8,-.95],[1.2,-.92],[1.6,-.89],[2,-.86],[2.4,-.82],[2.8,-.76],[3.2,-.64],[3.5,-.50],[3.8,-.34],[4.1,-.16],[4.4,-.05],[4.8,-.01],[6,0],[25,0]];
const v1_10_or=[[0,-.93],[0.4,-.96],[0.8,-.92],[1.2,-.94],[1.6,-.90],[2,-.86],[2.4,-.82],[2.8,-.72],[3.1,-.55],[3.4,-.38],[3.7,-.20],[4,-.08],[4.3,-.02],[5,-.005],[6,0],[25,0]];
const v1_10_gr=[[0,-.91],[0.4,-.89],[0.8,-.90],[1.2,-.87],[1.6,-.84],[2,-.80],[2.3,-.70],[2.5,-.50],[2.7,-.30],[2.9,-.14],[3.1,-.05],[3.5,-.01],[5,0],[25,0]];
const v1_10_rd=[[0,-.95],[0.4,-.93],[0.8,-.94],[1.2,-.91],[1.6,-.88],[2,-.85],[2.5,-.80],[2.9,-.75],[3.2,-.60],[3.5,-.44],[3.8,-.28],[4.1,-.10],[4.4,-.03],[5,-.01],[6,0],[25,0]];
const v1_10_pu=[[0,-.88],[0.4,-.84],[0.8,-.87],[1.2,-.82],[1.6,-.75],[1.9,-.68],[2.1,-.52],[2.3,-.34],[2.5,-.16],[2.7,-.05],[3,-.015],[4,-.005],[6,0],[25,0]];
const v1_10_bk=[[0,-.94],[0.4,-.92],[0.8,-.91],[1.3,-.90],[1.8,-.84],[2.3,-.74],[2.6,-.64],[2.9,-.54],[3.2,-.44],[3.5,-.32],[3.8,-.15],[4.1,-.05],[4.5,-.015],[5.5,-.003],[7,0],[25,0]];

const v1_50_bl=[[0,-.95],[0.3,-.93],[0.6,-.97],[0.9,-.92],[1.2,-.96],[1.5,-.90],[1.7,-.70],[1.9,-.35],[2.1,-.08],[2.4,-.02],[3,-.005],[5,0],[25,0]];
const v1_50_or=[[0,-.98],[0.5,-1],[1,-.99],[1.5,-1],[3,-1],[5.4,-1],[5.7,-.94],[5.85,-.50],[6,-.12],[6.15,-.02],[6.5,0],[25,0]];
const v1_50_gr=[[0,-.97],[0.3,-.94],[0.5,-.88],[0.65,-.50],[0.8,-.15],[0.95,-.03],[1.2,-.005],[2,0],[25,0]];
const v1_50_rd=[[0,-1],[0.05,-.5],[0.15,-.08],[0.4,-.05],[1,-.035],[2,-.025],[3,-.02],[4,-.012],[5,-.006],[6.5,-.002],[8,0],[25,0]];
const v1_50_pu=[[0,-.96],[0.3,-.92],[0.6,-.97],[0.9,-.90],[1.2,-.95],[1.5,-.86],[1.8,-.94],[2.1,-.88],[2.4,-.95],[2.6,-.84],[2.8,-.92],[3,-.87],[3.2,-.98],[3.4,-1],[6,-1],[6.3,-.97],[6.6,-.92],[6.8,-.88],[7,-.80],[7.2,-.55],[7.4,-.20],[7.55,-.02],[7.7,0],[25,0]];
const v1_50_bk=[[0,-.94],[0.1,-.80],[0.3,-.70],[0.5,-.63],[0.9,-.61],[1.3,-.57],[1.6,-.50],[1.9,-.42],[2.1,-.38],[2.5,-.37],[2.9,-.39],[3.1,-.37],[3.4,-.40],[4,-.40],[5,-.40],[5.6,-.40],[5.8,-.30],[5.95,-.21],[6.2,-.20],[6.6,-.19],[7,-.17],[7.2,-.12],[7.4,-.04],[7.6,0],[25,0]];

// ---------- von Mises, lambda 0.5 ----------
const v5_1_bl=[-.94,-.91,-.95,-.92,-.94,-.93,-.90,-.94,-.92,-.91,
-.93,-.90,-.92,-.89,-.91,-.90,-.88,-.91,-.89,-.90,
-.88,-.90,-.87,-.89,-.86,-.88,-.86,-.84,-.86,-.83,
-.84,-.82,-.83,-.80,-.81,-.79,-.79,-.76,-.77,-.74,
-.75,-.72,-.73,-.70,-.70,-.67,-.67,-.63,-.63,-.57,-.56];
const v5_1_or=[-.96,-.93,-.97,-.94,-.95,-.92,-.96,-.93,-.95,-.94,
-.92,-.95,-.93,-.91,-.94,-.92,-.95,-.91,-.93,-.90,
-.94,-.91,-.92,-.89,-.93,-.90,-.91,-.88,-.92,-.89,
-.90,-.87,-.91,-.88,-.89,-.86,-.90,-.87,-.88,-.85,
-.88,-.84,-.87,-.85,-.83,-.86,-.82,-.84,-.79,-.82,-.76];
const v5_1_gr=[-.93,-.95,-.92,-.94,-.91,-.93,-.90,-.92,-.90,-.88,
-.91,-.88,-.90,-.87,-.89,-.86,-.88,-.85,-.86,-.83,
-.81,-.82,-.79,-.80,-.76,-.78,-.75,-.76,-.72,-.73,
-.70,-.69,-.67,-.66,-.63,-.62,-.59,-.57,-.55,-.51,
-.48,-.45,-.42,-.38,-.35,-.31,-.27,-.23,-.17,-.13,-.07];
const v5_1_rd=[-.95,-.97,-.93,-.96,-.94,-.92,-.95,-.93,-.96,-.92,
-.94,-.91,-.95,-.92,-.93,-.90,-.94,-.91,-.92,-.89,
-.93,-.90,-.91,-.88,-.92,-.89,-.90,-.87,-.90,-.86,
-.88,-.86,-.87,-.84,-.86,-.83,-.85,-.82,-.84,-.81,
-.83,-.79,-.81,-.78,-.79,-.75,-.77,-.72,-.72,-.65,-.59];
const v5_1_pu=[-.95,-.92,-.96,-.93,-.91,-.94,-.92,-.95,-.91,-.93,
-.90,-.93,-.89,-.92,-.90,-.88,-.91,-.89,-.87,-.90,
-.88,-.86,-.89,-.85,-.87,-.85,-.86,-.83,-.85,-.82,
-.83,-.80,-.81,-.78,-.80,-.76,-.78,-.74,-.76,-.72,
-.73,-.69,-.70,-.66,-.67,-.62,-.62,-.56,-.55,-.48,-.43];
const v5_1_bk=[-.94,-.95,-.94,-.94,-.93,-.94,-.93,-.93,-.93,-.92,
-.92,-.92,-.92,-.91,-.91,-.91,-.91,-.90,-.90,-.90,
-.89,-.89,-.88,-.88,-.87,-.87,-.86,-.86,-.85,-.84,
-.83,-.82,-.81,-.80,-.79,-.78,-.77,-.76,-.75,-.73,
-.72,-.71,-.70,-.68,-.66,-.65,-.63,-.61,-.59,-.56,-.52];

const v5_5_bl=[[0,-.93],[0.5,-.91],[1,-.89],[1.5,-.86],[2,-.83],[2.5,-.80],[3,-.76],[3.5,-.72],[4,-.68],[4.5,-.62],[4.9,-.50],[5.2,-.36],[5.5,-.22],[5.8,-.10],[6.1,-.03],[7,-.01],[9,0],[25,0]];
const v5_5_or=[[0,-.90],[0.5,-.88],[1,-.86],[1.5,-.82],[2,-.78],[2.5,-.72],[3,-.68],[3.2,-.64],[3.6,-.62],[4,-.58],[4.4,-.52],[4.8,-.44],[5.2,-.32],[5.5,-.22],[5.9,-.10],[6.3,-.03],[7.5,-.01],[9,0],[25,0]];
const v5_5_gr=[[0,-.93],[0.5,-.95],[1,-.92],[1.5,-.94],[2,-.91],[2.5,-.93],[3,-.90],[3.5,-.92],[4,-.90],[4.3,-.95],[4.7,-.93],[5.1,-.96],[5.5,-.92],[6,-.95],[6.5,-.91],[7,-.94],[7.5,-.89],[8,-.93],[8.5,-.90],[9,-.94],[9.5,-.87],[10,-.91],[10.5,-.86],[11,-.82],[11.4,-.84],[11.8,-.79],[12.2,-.74],[12.6,-.70],[13,-.68],[13.4,-.52],[14,-.44],[14.3,-.26],[14.7,-.06],[15.1,-.01],[17,-.005],[19,0],[25,0]];
const v5_5_rd=[[0,-.92],[0.5,-.89],[1,-.87],[1.5,-.84],[2,-.82],[2.5,-.78],[3,-.76],[3.5,-.73],[4,-.72],[4.4,-.66],[4.8,-.58],[5.2,-.50],[5.6,-.40],[5.9,-.30],[6.2,-.18],[6.5,-.10],[6.8,-.04],[7.5,-.015],[9,-.005],[11,0],[25,0]];
const v5_5_pu=[[0,-.96],[0.5,-.94],[1,-.95],[1.5,-.92],[2,-.93],[2.5,-.90],[3,-.91],[3.5,-.88],[4,-.89],[4.5,-.86],[5,-.82],[5.5,-.70],[6,-.55],[6.3,-.45],[6.6,-.30],[6.9,-.14],[7.2,-.06],[7.6,-.02],[9,-.005],[11,0],[25,0]];
const v5_5_bk=[[0,-.95],[0.5,-.93],[1,-.92],[1.5,-.91],[2,-.90],[2.5,-.89],[3,-.87],[3.5,-.86],[4,-.83],[4.5,-.78],[5,-.72],[5.5,-.64],[5.9,-.52],[6.3,-.39],[6.7,-.30],[7.1,-.23],[7.6,-.21],[8.2,-.19],[9,-.19],[10,-.18],[11,-.175],[12,-.17],[12.8,-.16],[13.4,-.13],[13.9,-.10],[14.3,-.06],[14.7,-.02],[15.2,-.005],[17,0],[25,0]];

const v5_10_bl=[[0,-.95],[0.5,-.92],[1,-.90],[1.5,-.88],[2,-.86],[2.5,-.82],[2.8,-.84],[3.2,-.72],[3.6,-.60],[4,-.42],[4.4,-.21],[4.8,-.05],[5.2,-.01],[6.5,0],[25,0]];
const v5_10_or=[[0,-.97],[0.5,-.95],[1,-.96],[1.5,-.93],[2,-.90],[2.5,-.86],[3,-.84],[3.4,-.88],[3.8,-.83],[4.2,-.80],[4.6,-.66],[4.9,-.48],[5.2,-.26],[5.5,-.06],[6,-.01],[7,0],[25,0]];
const v5_10_gr=[[0,-.92],[0.5,-.90],[1,-.88],[1.5,-.84],[2,-.80],[2.4,-.74],[2.7,-.45],[2.9,-.25],[3.2,-.08],[3.6,-.02],[5,0],[25,0]];
const v5_10_rd=[[0,-.98],[0.5,-.99],[1,-.98],[1.5,-.99],[2,-.97],[2.5,-.98],[3,-.95],[3.5,-.97],[4,-.93],[4.4,-.88],[4.8,-.85],[5.1,-.80],[5.4,-.86],[5.7,-.72],[5.9,-.60],[6.2,-.45],[6.5,-.30],[6.8,-.16],[7.1,-.06],[7.4,-.01],[9,0],[25,0]];
const v5_10_pu=[[0,-.87],[0.5,-.86],[1,-.87],[1.5,-.86],[2,-.80],[2.3,-.62],[2.6,-.36],[2.9,-.12],[3.2,-.03],[4,-.005],[6,0],[25,0]];
const v5_10_bk=[[0,-.96],[0.5,-.95],[1,-.94],[1.6,-.92],[2.1,-.86],[2.6,-.74],[3.2,-.61],[3.6,-.55],[4,-.47],[4.4,-.38],[4.8,-.27],[5.2,-.19],[5.6,-.17],[6,-.14],[6.4,-.10],[6.9,-.04],[7.3,-.01],[8,0],[25,0]];

const v5_50_bl=[[0,-.98],[0.2,-.87],[0.35,-.99],[0.7,-1],[0.85,-.87],[1,-1],[25,-1]];
const v5_50_or=[[0,-1],[1,-1],[1.4,-.98],[1.55,-.85],[1.7,-.45],[1.85,-.18],[2.1,-.07],[2.5,-.03],[3.5,-.01],[5,-.004],[8,0],[25,0]];
const v5_50_gr=[[0,-.99],[1,-.98],[2,-1],[3,-.97],[4,-.98],[5,-.95],[5.6,-.97],[6,-.86],[6.3,-.96],[7,-.94],[7.5,-.97],[8,-.95],[8.5,-.98],[8.9,-.93],[9.1,-.70],[9.3,-.40],[9.5,-.16],[9.8,-.05],[10.3,-.02],[11,-.008],[13,0],[25,0]];
const v5_50_rd=[[0,-.99],[1,-1],[2,-.98],[3,-.97],[4,-.99],[4.8,-.96],[5,-.83],[5.2,-.97],[6,-.95],[7,-.87],[7.2,-.96],[8,-.95],[9,-.98],[9.8,-.97],[10.1,-.70],[10.3,-.35],[10.5,-.12],[10.8,-.06],[11.5,-.04],[12.5,-.03],[14,-.02],[16,-.012],[18,-.006],[20,-.003],[22,0],[25,0]];
const v5_50_pu=[[0,-.93],[0.3,-.99],[0.7,-.95],[1,-1],[1.5,-.97],[2,-.99],[2.5,-.94],[3,-.97],[3.5,-.93],[4,-.96],[4.5,-.94],[5,-.97],[5.5,-.93],[6,-.96],[6.5,-.94],[7,-.92],[7.5,-.96],[8,-.93],[8.5,-.97],[9,-.94],[9.5,-.91],[10,-.96],[10.5,-.93],[11,-.95],[11.5,-.92],[12,-.97],[12.5,-.94],[13,-.96],[13.5,-.93],[14,-.97],[14.5,-.94],[15,-.92],[15.5,-.96],[16,-.91],[16.3,-.83],[16.6,-.93],[17,-.95],[17.5,-.92],[17.7,-.97],[17.8,0],[21.55,0],[21.65,-.96],[22,-.92],[22.5,-.95],[23,-.91],[23.5,-.96],[24,-.93],[24.5,-.97],[25,-.94]];
const v5_50_bk=[[0,-.94],[0.3,-.98],[0.8,-1],[1.4,-.99],[1.55,-.96],[1.7,-.87],[1.85,-.83],[2.1,-.81],[2.5,-.80],[3,-.80],[3.5,-.795],[4,-.80],[4.5,-.79],[4.9,-.78],[5.1,-.79],[5.5,-.80],[6,-.79],[6.5,-.785],[7,-.79],[7.5,-.795],[8,-.79],[8.6,-.80],[8.9,-.78],[9.1,-.74],[9.3,-.64],[9.5,-.60],[9.8,-.57],[10.1,-.50],[10.3,-.44],[10.5,-.41],[11,-.40],[12,-.395],[13,-.40],[14,-.395],[15,-.39],[16,-.395],[16.3,-.38],[16.6,-.395],[17,-.39],[17.7,-.395],[17.8,-.2],[21.55,-.2],[21.65,-.39],[22.5,-.395],[23.5,-.39],[24.5,-.395],[25,-.39]];

// ---------- panel table: rows = alpha, cols = (dist, lambda) ----------
const P = (a,b,c,d,e,f)=>[a,b,c,d,e,f];
const PANELS = [
 [P(b1_1_bl,b1_1_or,b1_1_gr,b1_1_rd,b1_1_pu,b1_1_bk), P(b5_1_bl,b5_1_or,b5_1_gr,b5_1_rd,b5_1_pu,b5_1_bk),
  P(m1_1_bl,m1_1_or,m1_1_gr,m1_1_rd,m1_1_pu,m1_1_bk), P(m5_1_bl,m5_1_or,m5_1_gr,m5_1_rd,m5_1_pu,m5_1_bk),
  P(v1_1_bl,v1_1_or,v1_1_gr,v1_1_rd,v1_1_pu,v1_1_bk), P(v5_1_bl,v5_1_or,v5_1_gr,v5_1_rd,v5_1_pu,v5_1_bk)],
 [P(b1_5_bl,b1_5_or,b1_5_gr,b1_5_rd,b1_5_pu,b1_5_bk), P(b5_5_bl,b5_5_or,b5_5_gr,b5_5_rd,b5_5_pu,b5_5_bk),
  P(m1_5_bl,m1_5_or,m1_5_gr,m1_5_rd,m1_5_pu,m1_5_bk), P(m5_5_bl,m5_5_or,m5_5_gr,m5_5_rd,m5_5_pu,m5_5_bk),
  P(v1_5_bl,v1_5_or,v1_5_gr,v1_5_rd,v1_5_pu,v1_5_bk), P(v5_5_bl,v5_5_or,v5_5_gr,v5_5_rd,v5_5_pu,v5_5_bk)],
 [P(b1_10_bl,b1_10_or,b1_10_gr,b1_10_rd,b1_10_pu,b1_10_bk), P(b5_10_bl,b5_10_or,b5_10_gr,b5_10_rd,b5_10_pu,b5_10_bk),
  P(m1_10_bl,m1_10_or,m1_10_gr,m1_10_rd,m1_10_pu,m1_10_bk), P(m5_10_bl,m5_10_or,m5_10_gr,m5_10_rd,m5_10_pu,m5_10_bk),
  P(v1_10_bl,v1_10_or,v1_10_gr,v1_10_rd,v1_10_pu,v1_10_bk), P(v5_10_bl,v5_10_or,v5_10_gr,v5_10_rd,v5_10_pu,v5_10_bk)],
 [P(b1_50_bl,b1_50_or,b1_50_gr,b1_50_rd,b1_50_pu,b1_50_bk), P(b5_50_bl,b5_50_or,b5_50_gr,b5_50_rd,b5_50_pu,b5_50_bk),
  P(m1_50_bl,m1_50_or,m1_50_gr,m1_50_rd,m1_50_pu,m1_50_bk), P(m5_50_bl,m5_50_or,m5_50_gr,m5_50_rd,m5_50_pu,m5_50_bk),
  P(v1_50_bl,v1_50_or,v1_50_gr,v1_50_rd,v1_50_pu,v1_50_bk), P(v5_50_bl,v5_50_or,v5_50_gr,v5_50_rd,v5_50_pu,v5_50_bk)]
];

// ---------- layout ----------
const LEFTS=[113,418,787,1093,1462,1767], TOPS=[105,409,713,1017], PW=253, PH=251;
const GROUP_X=[382,1056,1731];
const FONT='"Liberation Sans", Arial, Helvetica, sans-serif';
const MATH='"DejaVu Sans", sans-serif';
const TXT='#1e1e1e';

function toPairs(d){ return typeof d[0]==='number' ? d.map((v,i)=>[STEPS[i],v]) : d; }
function yFmt(v){ return Math.abs(v)<1e-9 ? '0.0' : '\u2212'+Math.abs(v).toFixed(1); }

const grids=[], xAxes=[], yAxes=[], series=[], graphics=[];
for(let r=0;r<4;r++){
  for(let c=0;c<6;c++){
    const k=r*6+c;
    grids.push({left:LEFTS[c], top:TOPS[r], width:PW, height:PH, show:true, backgroundColor:'#EAEAF2', borderWidth:0, containLabel:false});
    xAxes.push({type:'value', gridIndex:k, min:0, max:25, interval:5,
      axisLine:{show:false}, axisTick:{show:false},
      splitLine:{show:true, lineStyle:{color:'#ffffff', width:1.8}},
      axisLabel:{show:r===3, margin:15, fontSize:16, fontFamily:FONT, color:TXT, showMinLabel:true, showMaxLabel:true}});
    yAxes.push({type:'value', gridIndex:k, min:-1, max:0, interval:0.2,
      axisLine:{show:false}, axisTick:{show:false},
      splitLine:{show:true, lineStyle:{color:'#ffffff', width:1.8}},
      axisLabel:{show:c%2===0, margin:20, fontSize:16, fontFamily:FONT, color:TXT, formatter:yFmt, showMinLabel:true, showMaxLabel:true}});
    PANELS[r][c].forEach((d,j)=>{
      series.push({type:'line', xAxisIndex:k, yAxisIndex:k, data:toPairs(d), showSymbol:false, symbol:'none',
        silent:true, animation:false, clip:true, z:2+j,
        lineStyle:{color:COLORS[j], width: j===5 ? 3.2 : 2.4, join:'round'}, itemStyle:{color:COLORS[j]}});
    });
  }
}

function txt(x,y,text,size,rot,extra){
  const o={type:'text', x:x, y:y, silent:true, z:100,
    style:Object.assign({text:text, font:size+'px '+FONT, fill:TXT, align:'center', verticalAlign:'middle', textAlign:'center', textVerticalAlign:'middle'}, extra||{})};
  if(rot) o.rotation=rot;
  return o;
}
GROUP_TITLES.forEach((t,g)=>graphics.push(txt(GROUP_X[g],42,t,24)));
for(let c=0;c<6;c++){
  const cx=LEFTS[c]+PW/2;
  graphics.push(txt(cx,85,'{a|\u03bb}{b|\u03b8}{c| = '+LAMBDAS[c%2]+'}',24,0,{rich:{
    a:{fontFamily:MATH, fontStyle:'italic', fontSize:22, lineHeight:30, fill:TXT},
    b:{fontFamily:MATH, fontStyle:'italic', fontSize:15, lineHeight:14, verticalAlign:'bottom', fill:TXT},
    c:{fontFamily:FONT, fontSize:24, lineHeight:30, fill:TXT}}}));
  graphics.push(txt(cx,1319,X_LABEL,23));
}
for(let r=0;r<4;r++){
  const cy=TOPS[r]+PH/2;
  for(let c=0;c<6;c+=2){
    graphics.push(txt(LEFTS[c]-76,cy,Y_LABEL,22,Math.PI/2));
    graphics.push(txt(LEFTS[c+1]-23,cy,'{i|\u03b1}{n| = '+ALPHAS[r]+'}',23,Math.PI/2,{rich:{
      i:{fontFamily:MATH, fontStyle:'italic', fontSize:21, lineHeight:28, fill:TXT},
      n:{fontFamily:FONT, fontSize:23, lineHeight:28, fill:TXT}}}));
  }
}

const chart=echarts.init(document.getElementById('c'), null, {renderer:'canvas', width:2062, height:1364});
chart.setOption({backgroundColor:'#ffffff', animation:false, grid:grids, xAxis:xAxes, yAxis:yAxes, series:series, graphic:{elements:graphics}});
</script></body></html>
